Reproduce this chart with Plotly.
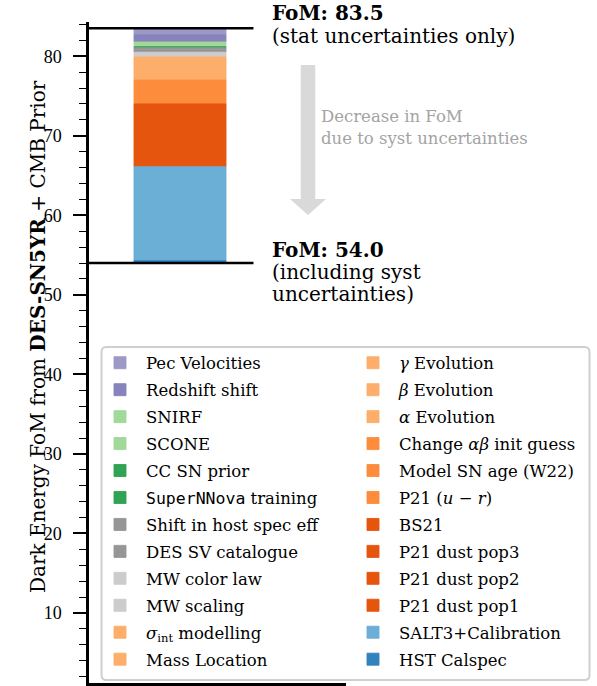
import numpy as np
import plotly.graph_objects as go

# ---------------- data (stack order: bottom -> top) ----------------
FOM_SYST = 54.0
FOM_STAT = 83.5

labels = [
    "HST Calspec",
    "SALT3+Calibration",
    "P21 dust pop1",
    "P21 dust pop2",
    "P21 dust pop3",
    "BS21",
    "P21 (<i>u</i> − <i>r</i>)",
    "Model SN age (W22)",
    "Change <i>αβ</i> init guess",
    "<i>α</i> Evolution",
    "<i>β</i> Evolution",
    "<i>γ</i> Evolution",
    "Mass Location",
    "<i>σ</i><sub>int</sub> modelling",
    "MW scaling",
    "MW color law",
    "DES SV catalogue",
    "Shift in host spec eff",
    "<span style='font-family:DejaVu Sans Mono'>SuperNNova</span> training",
    "CC SN prior",
    "SCONE",
    "SNIRF",
    "Redshift shift",
    "Pec Velocities",
]
contrib = [0.3, 11.8, 3.0, 2.2, 1.4, 1.3, 1.2, 1.0, 0.8, 0.7, 0.6, 0.5,
           0.6, 0.5, 0.3, 0.3, 0.3, 0.25, 0.08, 0.05, 0.3, 0.3, 0.9, 0.82]
colors = ["#3182bd", "#6baed6",
          "#e6550d", "#e6550d", "#e6550d", "#e6550d",
          "#fd8d3c", "#fd8d3c", "#fd8d3c",
          "#fdae6b", "#fdae6b", "#fdae6b", "#fdae6b", "#fdae6b",
          "#cccccc", "#cccccc",
          "#969696", "#969696",
          "#31a354", "#31a354",
          "#a1d99b", "#a1d99b",
          "#8783bd", "#9d99c7"]

# ---------------- layout geometry ----------------
W, H = 597, 686
ML, MR, MT, MB = 89, 251, 22, 3
PW = W - ML - MR
PH = H - MT - MB


def px(x):
    return (x - ML) / PW


def py(y):
    return 1 - (y - MT) / PH


SERIF = "DejaVu Serif"
bases = FOM_SYST + np.concatenate([[0], np.cumsum(contrib)[:-1]])

fig = go.Figure()
n = len(labels)
for rank, i in enumerate(range(n - 1, -1, -1)):
    fig.add_trace(go.Bar(
        x=[0], y=[contrib[i]], base=[bases[i]], width=1,
        name=labels[i],
        marker=dict(color=colors[i], line=dict(width=0.9, color=colors[i])),
        legend="legend" if rank < 12 else "legend2",
        legendgroup="g%d" % i,
        hoverinfo="name+y",
    ))

legend_common = dict(
    xanchor="left", yanchor="top",
    bgcolor="rgba(0,0,0,0)", borderwidth=0,
    font=dict(family=SERIF, size=16.5, color="black"),
    itemwidth=42, traceorder="grouped", tracegroupgap=2.5,
    itemclick=False, itemdoubleclick=False,
)

# legend frame (rounded)
x0, x1, y0, y1 = px(101.5), px(589.5), py(347), py(680)
rx, ry = 5 / PW, 5 / PH
frame = (f"M{x0+rx},{y0} L{x1-rx},{y0} Q{x1},{y0} {x1},{y0-ry} "
         f"L{x1},{y1+ry} Q{x1},{y1} {x1-rx},{y1} L{x0+rx},{y1} "
         f"Q{x0},{y1} {x0},{y1+ry} L{x0},{y0-ry} Q{x0},{y0} {x0+rx},{y0} Z")

# grey arrow
ax_c, sh, hw = 308, 7.3, 18
a_top, a_hb, a_tip = 65, 199, 215
arrow = (f"M{px(ax_c-sh)},{py(a_top)} L{px(ax_c+sh)},{py(a_top)} "
         f"L{px(ax_c+sh)},{py(a_hb)} L{px(ax_c+hw)},{py(a_hb)} "
         f"L{px(ax_c)},{py(a_tip)} L{px(ax_c-hw)},{py(a_hb)} "
         f"L{px(ax_c-sh)},{py(a_hb)} Z")

shapes = [
    dict(type="line", xref="paper", yref="y", x0=0, x1=0.64, y0=FOM_STAT, y1=FOM_STAT,
         line=dict(color="black", width=2.5)),
    dict(type="line", xref="paper", yref="y", x0=0, x1=0.64, y0=FOM_SYST, y1=FOM_SYST,
         line=dict(color="black", width=2.5)),
    dict(type="path", xref="paper", yref="paper", path=arrow,
         fillcolor="#d9d9d9", line=dict(width=0)),
    dict(type="path", xref="paper", yref="paper", path=frame,
         fillcolor="white", line=dict(color="#cfcfcf", width=2)),
]


def note(text, x, y, size=20, color="black", angle=0, xanchor="left"):
    return dict(text=text, x=px(x), y=py(y), xref="paper", yref="paper",
                xanchor=xanchor, yanchor="middle", showarrow=False,
                textangle=angle, font=dict(family=SERIF, size=size, color=color))


annotations = [
    note("<b>FoM: %.1f</b>" % FOM_STAT, 270, 12.5),
    note("(stat uncertainties only)", 270, 36),
    note("<b>FoM: %.1f</b>" % FOM_SYST, 270, 249.5),
    note("(including syst", 270, 271.5),
    note("uncertainties)", 270, 293.5),
    note("Decrease in FoM", 319, 117, size=16.5, color="#a3a3a3"),
    note("due to syst uncertainties", 319, 139, size=16.5, color="#a3a3a3"),
    note("Dark Energy FoM from <b>DES-SN5YR</b> + CMB Prior", 38, 337, angle=-90,
         xanchor="center"),
]

fig.update_layout(
    width=W, height=H,
    font=dict(family=SERIF, color="black"),
    margin=dict(l=ML, r=MR, t=MT, b=MB, pad=0),
    paper_bgcolor="white", plot_bgcolor="white",
    barmode="overlay",
    showlegend=True,
    legend=dict(x=px(94), y=py(345.5), **legend_common),
    legend2=dict(x=px(347), y=py(345.5), **legend_common),
    shapes=shapes,
    annotations=annotations,
    xaxis=dict(range=[-91 / 92, -91 / 92 + PW / 92], showgrid=False, zeroline=False,
               showticklabels=False, ticks="", showline=True, linecolor="black",
               linewidth=2.5, fixedrange=True),
    yaxis=dict(range=[1.2, 84.3], showgrid=False, zeroline=False,
               showline=True, linecolor="black", linewidth=2.5,
               tickmode="linear", tick0=0, dtick=10, ticks="outside",
               ticklen=13, tickwidth=1.6, tickcolor="black",
               minor=dict(tick0=0, dtick=2, ticks="outside", ticklen=7,
                          tickwidth=1.4, tickcolor="black"),
               tickfont=dict(family="Liberation Serif", size=18, color="black"),
               ticklabelstandoff=8, fixedrange=True),
)

fig.write_html("out.html")
